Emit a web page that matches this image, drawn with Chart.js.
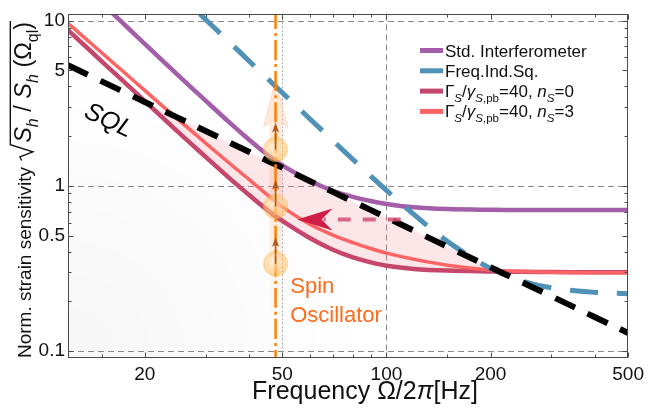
<!DOCTYPE html>
<html><head><meta charset="utf-8">
<script src="https://cdn.jsdelivr.net/npm/chart.js@4.4.0/dist/chart.umd.min.js"></script>
<style>html,body{margin:0;padding:0;background:#fff}#wrap{width:649px;height:411px}</style>
</head><body><div id="wrap"><canvas id="c" width="649" height="411"></canvas></div>
<script>
// ---------------- data ----------------
const xMin = 12, xMax = 500, yMin = 0.091, yMax = 10.9;
const xTickValues = [20, 50, 100, 200, 500];
const xMinorTicks = [15, 30, 40, 60, 70, 80, 90, 150, 300, 400];
const yTickValues = [0.1, 0.5, 1, 5, 10];
const yMinorTicks = [0.2, 0.3, 0.4, 0.6, 0.7, 0.8, 0.9, 2, 3, 4, 6, 7, 8, 9];
const gridDashedX = [100];
const gridDottedX = [50];
const gridDashedY = [0.1, 1, 10];

const seriesNames = ['Std. Interferometer', 'Freq.Ind.Sq.', 'Γ_S/γ_S,pb=40, n_S=0', 'Γ_S/γ_S,pb=40, n_S=3', 'SQL'];
const freq = [12, 14, 16, 18, 20, 25, 30, 35, 40, 45, 50, 60, 70, 80, 90, 100, 120, 150, 200, 250, 300, 400, 500];
const sqlValues = [5.37, 4.60, 4.03, 3.58, 3.22, 2.58, 2.15, 1.84, 1.61, 1.43, 1.29, 1.07, 0.92, 0.805, 0.716, 0.644, 0.537, 0.429, 0.322, 0.258, 0.215, 0.161, 0.129];
const stdValues = [19.99, 14.7, 11.26, 8.91, 7.23, 4.66, 3.28, 2.44, 1.91, 1.56, 1.33, 1.075, 0.935, 0.858, 0.81, 0.778, 0.742, 0.724, 0.717, 0.715, 0.714, 0.714, 0.714];
const spinN0Values = [8.75, 6.5, 5.02, 4.0, 3.26, 2.114, 1.499, 1.122, 0.884, 0.721, 0.614, 0.484, 0.411, 0.3695, 0.345, 0.329, 0.3147, 0.3075, 0.304, 0.302, 0.301, 0.300, 0.300];
const spinN3Values = [9.64, 7.27, 5.69, 4.59, 3.78, 2.516, 1.814, 1.38, 1.096, 0.891, 0.7465, 0.5857, 0.5044, 0.4539, 0.4184, 0.392, 0.3604, 0.3316, 0.3096, 0.3032, 0.3005, 0.2987, 0.2982];
const freqIndFreq = [25, 30, 35, 40, 45, 50, 60, 70, 80, 90, 100, 120, 150, 200, 250, 300, 400, 500];
const freqIndValues = [14.6, 10.16, 7.47, 5.72, 4.52, 3.66, 2.55, 1.879, 1.445, 1.151, 0.940, 0.672, 0.462, 0.317, 0.264, 0.242, 0.227, 0.223];

const spinFreq = 47.8;                       // spin oscillator frequency
const spinLevels = [0.338, 0.75, 1.66];      // orange markers
const paleArrow = [0.16, 2.4, 4.35];         // shaft start, head base, tip
const redArrowLevel = 0.627;
const redArrowFreqs = [110, 68, 55.2];       // dashed start, head base, tip
const sqlLabelPos = [15.7, 2.47];
const spinLabelPos = [52.7, 0.281];

// ---------------- helpers ----------------
const FAM = '"Liberation Sans", Arial, Helvetica, sans-serif';
const pts = (xs, ys) => xs.map((x, i) => ({x, y: ys[i]}));
const COL = {std:'#a45ea9', fis:'#5091b8', n0:'#c5476b', n3:'#ff6363', orange:'#ff8000'};

function drawRich(ctx, x, y, parts, fs) {
  let cx = x;
  for (const p of parts) {
    const size = p.s ? fs * 0.68 : fs;
    ctx.font = (p.i ? 'italic ' : '') + size + 'px ' + FAM;
    ctx.fillText(p.t, cx, y + (p.s ? fs * 0.28 : 0));
    cx += ctx.measureText(p.t).width;
  }
  return cx - x;
}
function richWidth(ctx, parts, fs) {
  let w = 0;
  for (const p of parts) {
    const size = p.s ? fs * 0.68 : fs;
    ctx.font = (p.i ? 'italic ' : '') + size + 'px ' + FAM;
    w += ctx.measureText(p.t).width;
  }
  return w;
}

const legendParts = [
  [{t:'Std. Interferometer'}],
  [{t:'Freq.Ind.Sq.'}],
  [{t:'Γ'},{t:'S',i:1,s:1},{t:'/'},{t:'γ',i:1},{t:'S',i:1,s:1},{t:',pb',s:1},{t:'=40, '},{t:'n',i:1},{t:'S',i:1,s:1},{t:'=0'}],
  [{t:'Γ'},{t:'S',i:1,s:1},{t:'/'},{t:'γ',i:1},{t:'S',i:1,s:1},{t:',pb',s:1},{t:'=40, '},{t:'n',i:1},{t:'S',i:1,s:1},{t:'=3'}]
];
const legendColors = [COL.std, COL.fis, COL.n0, COL.n3];

const decor = {
  id: 'decor',
  beforeDatasetsDraw(chart) {
    const {ctx, chartArea: a, scales: {x, y}} = chart;
    ctx.save();
    ctx.beginPath(); ctx.rect(a.left, a.top, a.width, a.height); ctx.clip();
    // faint grey shading lower-left
    const g = ctx.createRadialGradient(a.left, a.bottom, 0, a.left, a.bottom, 300);
    g.addColorStop(0, 'rgba(0,0,0,0.035)'); g.addColorStop(1, 'rgba(0,0,0,0)');
    ctx.fillStyle = g; ctx.fillRect(a.left, a.top, a.width, a.height);
    // grid
    ctx.strokeStyle = '#8a8a8a'; ctx.lineWidth = 1.1; ctx.setLineDash([6, 4]);
    for (const v of gridDashedY) { const p = Math.round(y.getPixelForValue(v)) + 0.5; ctx.beginPath(); ctx.moveTo(a.left, p); ctx.lineTo(a.right, p); ctx.stroke(); }
    for (const v of gridDashedX) { const p = Math.round(x.getPixelForValue(v)) + 0.5; ctx.beginPath(); ctx.moveTo(p, a.top); ctx.lineTo(p, a.bottom); ctx.stroke(); }
    ctx.strokeStyle = '#a8a8a8'; ctx.lineWidth = 1; ctx.setLineDash([2, 2]);
    for (const v of gridDottedX) { const p = Math.round(x.getPixelForValue(v)) + 0.5; ctx.beginPath(); ctx.moveTo(p, a.top); ctx.lineTo(p, a.bottom); ctx.stroke(); }
    ctx.setLineDash([]);
    // pale big arrow
    const ax = x.getPixelForValue(spinFreq);
    const y0 = y.getPixelForValue(paleArrow[0]), y1 = y.getPixelForValue(paleArrow[1]), y2 = y.getPixelForValue(paleArrow[2]);
    const sg = ctx.createLinearGradient(0, y0, 0, y2);
    sg.addColorStop(0, 'rgba(255,205,170,0.0)'); sg.addColorStop(0.35, 'rgba(255,205,170,0.35)'); sg.addColorStop(1, 'rgba(255,205,170,0.45)');
    ctx.fillStyle = sg;
    ctx.beginPath();
    ctx.moveTo(ax - 6, y0); ctx.lineTo(ax - 6, y1); ctx.lineTo(ax - 12, y1 + 4); ctx.lineTo(ax, y2);
    ctx.lineTo(ax + 12, y1 + 4); ctx.lineTo(ax + 6, y1); ctx.lineTo(ax + 6, y0); ctx.closePath(); ctx.fill();
    ctx.strokeStyle = 'rgba(255,190,150,0.45)'; ctx.lineWidth = 1;
    ctx.beginPath(); ctx.moveTo(ax - 6, y1); ctx.lineTo(ax - 12, y1 + 4); ctx.lineTo(ax, y2); ctx.lineTo(ax + 12, y1 + 4); ctx.lineTo(ax + 6, y1); ctx.stroke();
    ctx.restore();
  },
  afterDatasetsDraw(chart) {
    const {ctx, chartArea: a, scales: {x, y}} = chart;
    ctx.save();
    // red dashed arrow
    const ry = y.getPixelForValue(redArrowLevel);
    const rx0 = x.getPixelForValue(redArrowFreqs[0]), rx1 = x.getPixelForValue(redArrowFreqs[1]), rx2 = x.getPixelForValue(redArrowFreqs[2]);
    ctx.strokeStyle = 'rgba(212,80,115,0.85)'; ctx.lineWidth = 4; ctx.setLineDash([13, 12]); ctx.lineDashOffset = 0;
    ctx.beginPath(); ctx.moveTo(rx0, ry); ctx.lineTo(rx1 - 5, ry); ctx.stroke(); ctx.setLineDash([]);
    ctx.fillStyle = '#cf1d48';
    ctx.beginPath(); ctx.moveTo(rx2, ry); ctx.lineTo(rx1 + 4, ry - 11); ctx.lineTo(rx1 - 7, ry); ctx.lineTo(rx1 + 4, ry + 11); ctx.closePath(); ctx.fill();
    // orange markers + brown arrows
    const sx = x.getPixelForValue(spinFreq);
    for (const lv of spinLevels) {
      const py = y.getPixelForValue(lv);
      const rg = ctx.createRadialGradient(sx - 3, py - 3, 1, sx, py, 13);
      rg.addColorStop(0, 'rgba(255,240,215,0.7)'); rg.addColorStop(1, 'rgba(255,180,70,0.55)');
      ctx.fillStyle = rg; ctx.beginPath(); ctx.arc(sx, py, 12.5, 0, Math.PI * 2); ctx.fill();
      ctx.strokeStyle = '#b35a1e'; ctx.fillStyle = '#b35a1e'; ctx.lineWidth = 1.6;
      ctx.beginPath(); ctx.moveTo(sx, py); ctx.lineTo(sx, py - 20); ctx.stroke();
      ctx.beginPath(); ctx.moveTo(sx, py - 27); ctx.lineTo(sx - 3.5, py - 17); ctx.lineTo(sx, py - 19); ctx.lineTo(sx + 3.5, py - 17); ctx.closePath(); ctx.fill();
    }
    // SQL label
    ctx.fillStyle = '#000';
    ctx.save();
    ctx.translate(x.getPixelForValue(sqlLabelPos[0]), y.getPixelForValue(sqlLabelPos[1]));
    ctx.rotate(Math.atan2(y.getPixelForValue(1) - y.getPixelForValue(10), x.getPixelForValue(100) - x.getPixelForValue(10)));
    ctx.font = 'italic 25px ' + FAM; ctx.textAlign = 'center'; ctx.textBaseline = 'middle';
    ctx.fillText('SQL', 0, 0);
    ctx.restore();
    // Spin Oscillator label
    ctx.fillStyle = '#ff6a1a'; ctx.font = '22px ' + FAM; ctx.textAlign = 'left'; ctx.textBaseline = 'alphabetic';
    const lx = x.getPixelForValue(spinLabelPos[0]), ly = y.getPixelForValue(spinLabelPos[1]);
    ctx.fillText('Spin', lx, ly + 16);
    ctx.fillText('Oscillator', lx, ly + 45);
    // legend
    ctx.textBaseline = 'alphabetic';
    for (let i = 0; i < 4; i++) {
      const cy = 50.5 + i * 20.3;
      ctx.fillStyle = legendColors[i]; ctx.fillRect(420, cy - 2.5, 23, 5);
      ctx.fillStyle = '#111';
      drawRich(ctx, 445, cy + 6, legendParts[i], 17);
    }
    // frame + ticks
    ctx.strokeStyle = '#4a4a4a'; ctx.lineWidth = 1;
    const L = Math.round(a.left) + 0.5, R = Math.round(a.right) - 0.5, T = Math.round(a.top) + 0.5, B = Math.round(a.bottom) - 0.5;
    ctx.strokeRect(L, T, R - L, B - T);
    const tick = (vals, len) => {
      for (const v of vals) {
        const p = Math.round(x.getPixelForValue(v)) + 0.5;
        ctx.beginPath(); ctx.moveTo(p, B); ctx.lineTo(p, B - len); ctx.moveTo(p, T); ctx.lineTo(p, T + len); ctx.stroke();
      }
    };
    const ticky = (vals, len) => {
      for (const v of vals) {
        const p = Math.round(y.getPixelForValue(v)) + 0.5;
        ctx.beginPath(); ctx.moveTo(L, p); ctx.lineTo(L + len, p); ctx.moveTo(R, p); ctx.lineTo(R - len, p); ctx.stroke();
      }
    };
    tick(xTickValues, 5); tick(xMinorTicks, 3); ticky(yTickValues, 5); ticky(yMinorTicks, 3);
    // axis titles
    ctx.fillStyle = '#111';
    const xt = [{t:'Frequency Ω/2'},{t:'π',i:1},{t:'[Hz]'}];
    const xfs = 25;
    const xw = richWidth(ctx, xt, xfs);
    drawRich(ctx, 365 - xw / 2, 399, xt, xfs);
    // y title (rotated)
    const yfs = 19, mfs = 23.5;
    const pre = [{t:'Norm. strain sensitivity '}];
    const inside = [{t:'S',i:1},{t:'h',i:1,s:1},{t:' / '},{t:'S',i:1},{t:'h',i:1,s:1},{t:' ('},{t:'Ω'},{t:'ql',s:1},{t:')'}];
    const wPre = richWidth(ctx, pre, yfs), wIn = richWidth(ctx, inside, mfs), wRad = 0.8 * mfs;
    const total = wPre + wRad + wIn;
    ctx.save();
    ctx.translate(31, 190);
    ctx.rotate(-Math.PI / 2);
    let cx = -total / 2;
    cx += drawRich(ctx, cx, 0, pre, yfs);
    ctx.strokeStyle = '#111'; ctx.lineWidth = 1.4;
    ctx.beginPath();
    ctx.moveTo(cx + 0.05 * mfs, -0.4 * mfs); ctx.lineTo(cx + 0.2 * mfs, -0.47 * mfs);
    ctx.lineTo(cx + 0.42 * mfs, 0.08 * mfs); ctx.lineTo(cx + 0.72 * mfs, -0.88 * mfs);
    ctx.lineTo(cx + wRad + wIn + 1, -0.88 * mfs); ctx.stroke();
    cx += wRad;
    drawRich(ctx, cx, 0, inside, mfs);
    ctx.restore();
    ctx.restore();
  }
};

const chart = new Chart(document.getElementById('c'), {
  type: 'line',
  data: {
    datasets: [
      {label: seriesNames[3], data: pts(freq, spinN3Values), borderColor: COL.n3, borderWidth: 3.5, order: 4, fill: false},
      {label: seriesNames[2], data: pts(freq, spinN0Values), borderColor: COL.n0, borderWidth: 4.5, order: 5,
        fill: {target: 2, above: 'rgba(0,0,0,0)', below: 'rgba(240,140,150,0.22)'}},
      {label: seriesNames[4], data: pts(freq, sqlValues), borderColor: '#000', borderWidth: 6, borderDash: [22, 14], order: 1, fill: false},
      {label: seriesNames[0], data: pts(freq, stdValues), borderColor: COL.std, borderWidth: 4.5, order: 3, fill: false},
      {label: seriesNames[1], data: pts(freqIndFreq, freqIndValues), borderColor: COL.fis, borderWidth: 5, borderDash: [28, 19], borderDashOffset: 17, order: 2, fill: false},
      {label: 'Spin Oscillator', data: [{x: spinFreq, y: 0.05}, {x: spinFreq, y: 20}], borderColor: COL.orange, borderWidth: 2.5, borderDash: [20, 4, 3, 4], order: 0, fill: false}
    ]
  },
  options: {
    responsive: false, animation: false, devicePixelRatio: 1,
    layout: {padding: {top: 9, right: 16, left: 0, bottom: 0}},
    plugins: {legend: {display: false}, tooltip: {enabled: false}},
    elements: {point: {radius: 0}, line: {tension: 0.35, borderCapStyle: 'butt'}},
    datasets: {line: {clip: 0}},
    scales: {
      x: {type: 'logarithmic', min: xMin, max: xMax,
        afterBuildTicks: s => { s.ticks = xTickValues.map(v => ({value: v})); },
        afterFit: s => { s.height = 53; },
        grid: {display: false, drawTicks: false}, border: {display: false},
        ticks: {autoSkip: false, maxRotation: 0, padding: 5, color: '#111', font: {family: FAM, size: 19}, callback: v => String(v)}},
      y: {type: 'logarithmic', min: yMin, max: yMax,
        afterBuildTicks: s => { s.ticks = yTickValues.map(v => ({value: v})); },
        afterFit: s => { s.width = 68; },
        grid: {display: false, drawTicks: false}, border: {display: false},
        ticks: {autoSkip: false, padding: 3, color: '#111', font: {family: FAM, size: 19}, callback: v => String(v)}}
    }
  },
  plugins: [decor]
});
</script></body></html>
